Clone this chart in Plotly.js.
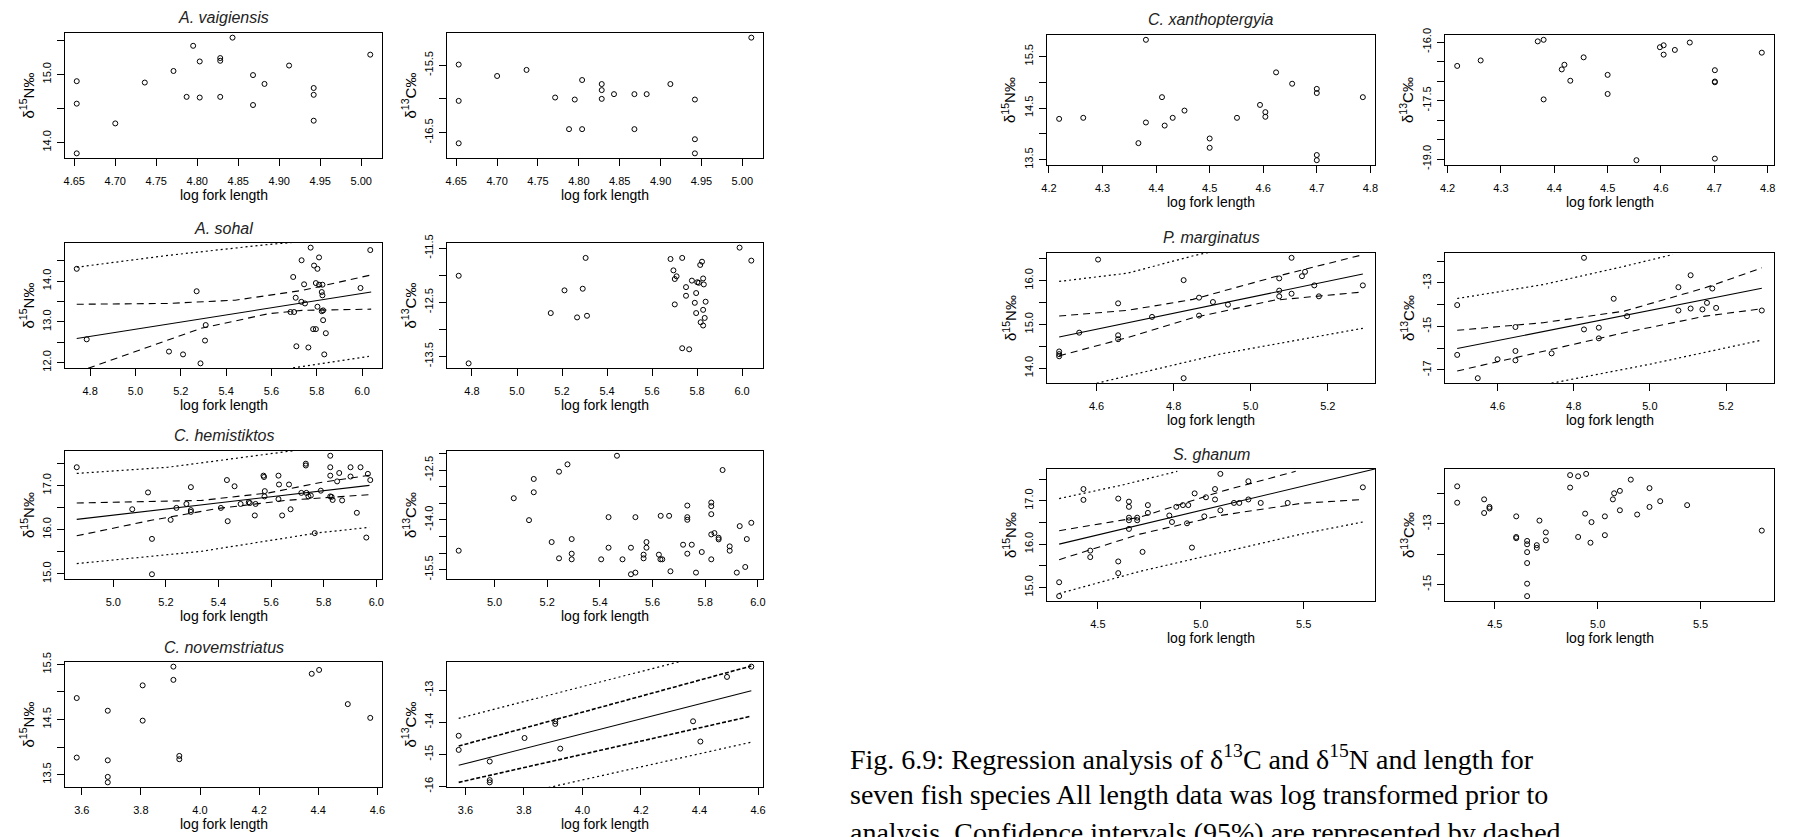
<!DOCTYPE html>
<html><head><meta charset="utf-8">
<script src="https://cdn.plot.ly/plotly-3.0.1.min.js"></script>
<style>body{margin:0;background:#fff}#p{width:1794px;height:837px}</style>
</head><body><div id="p"></div>
<script>
// ---------------- DATA ----------------
// A. vaigiensis
const avaig_N_x = [4.653,4.653,4.653,4.700,4.736,4.771,4.787,4.795,4.803,4.803,4.828,4.828,4.828,4.843,4.868,4.868,4.882,4.912,4.942,4.942,4.942,5.011];
const avaig_N_y = [14.90,14.57,13.84,14.28,14.88,15.05,14.67,15.42,15.19,14.66,15.24,15.20,14.67,15.54,14.99,14.55,14.86,15.13,14.80,14.70,14.32,15.29];
const avaig_C_x = [4.653,4.653,4.653,4.700,4.736,4.771,4.788,4.795,4.804,4.804,4.828,4.828,4.828,4.843,4.868,4.868,4.883,4.912,4.942,4.942,4.942,5.011];
const avaig_C_y = [-15.49,-16.03,-16.66,-15.66,-15.57,-15.98,-16.45,-16.01,-15.72,-16.45,-15.78,-15.87,-16.00,-15.93,-15.93,-16.45,-15.93,-15.78,-16.01,-16.60,-16.81,-15.09];
// A. sohal
const sohal_N_x = [4.741,4.785,5.148,5.210,5.270,5.287,5.310,5.307,5.696,5.707,5.733,5.744,5.710,5.684,5.700,5.732,5.748,5.763,5.773,5.788,5.803,5.810,5.796,5.810,5.825,5.822,5.803,5.825,5.828,5.828,5.822,5.784,5.796,5.840,5.833,5.993,6.036];
const sohal_N_y = [14.30,12.57,12.27,12.20,13.75,11.98,12.92,12.54,14.10,13.59,14.51,13.92,12.40,13.24,13.24,13.49,13.45,12.37,14.82,14.38,14.30,14.58,13.95,13.91,13.91,13.73,13.37,13.65,13.28,13.04,13.26,12.82,12.82,12.72,12.20,13.83,14.76];
const sohal_C_x = [4.741,4.785,5.150,5.211,5.267,5.292,5.305,5.311,5.682,5.695,5.701,5.709,5.701,5.734,5.751,5.751,5.734,5.765,5.777,5.790,5.796,5.796,5.801,5.808,5.814,5.822,5.827,5.830,5.827,5.838,5.834,5.816,5.827,5.989,6.041];
const sohal_C_y = [-12.01,-13.63,-12.70,-12.28,-12.78,-12.25,-11.68,-12.75,-11.70,-11.91,-12.07,-12.02,-12.54,-11.68,-12.22,-12.38,-13.35,-13.37,-12.10,-12.51,-12.33,-12.70,-12.13,-12.14,-11.81,-11.75,-12.06,-12.17,-12.64,-12.49,-12.79,-12.87,-12.93,-11.49,-11.73];
const sohal_fit_x = [4.741,6.04],            sohal_fit_y = [12.59,13.73];
const sohal_ciU_x = [4.741,5.14,5.44,5.736,6.04], sohal_ciU_y = [13.43,13.45,13.53,13.77,14.15];
const sohal_ciL_x = [4.741,4.996,5.29,5.588,5.736,6.04], sohal_ciL_y = [11.76,12.27,12.84,13.20,13.28,13.31];
const sohal_piU_x = [4.741,5.144,5.573,6.04], sohal_piU_y = [14.34,14.63,14.89,15.11];
const sohal_piL_x = [4.741,5.29,5.707,6.03],  sohal_piL_y = [10.89,11.46,11.88,12.15];
// C. hemistiktos
const hemi_N_x = [4.861,5.072,5.132,5.147,5.147,5.218,5.240,5.278,5.295,5.295,5.295,5.409,5.435,5.432,5.461,5.484,5.515,5.519,5.538,5.541,5.571,5.573,5.575,5.576,5.628,5.630,5.628,5.642,5.668,5.674,5.715,5.732,5.732,5.734,5.742,5.751,5.766,5.789,5.825,5.825,5.825,5.825,5.830,5.834,5.859,5.851,5.870,5.902,5.902,5.926,5.940,5.968,5.977,5.962];
const hemi_N_y = [17.41,16.46,16.84,15.79,14.99,16.22,16.49,16.58,16.96,16.44,16.40,16.49,16.19,17.12,16.98,16.58,16.62,16.60,16.32,16.58,17.22,17.19,16.75,16.87,17.22,17.02,16.69,16.32,17.02,16.46,16.83,17.49,17.45,16.83,16.75,16.77,15.92,16.88,17.67,17.41,17.22,16.75,16.74,16.67,17.28,17.09,16.66,17.41,17.20,16.38,17.41,17.26,17.12,15.82];
const hemi_C_x = [4.864,5.073,5.131,5.149,5.149,5.217,5.245,5.245,5.277,5.293,5.293,5.293,5.405,5.433,5.433,5.465,5.486,5.518,5.518,5.535,5.535,5.566,5.566,5.577,5.577,5.624,5.630,5.637,5.631,5.663,5.668,5.716,5.732,5.732,5.732,5.732,5.749,5.765,5.787,5.823,5.823,5.823,5.823,5.823,5.835,5.851,5.851,5.866,5.893,5.893,5.920,5.931,5.952,5.958,5.975];
const hemi_C_y = [-14.93,-13.35,-14.01,-12.77,-13.17,-14.67,-12.55,-15.16,-12.33,-14.58,-15.02,-15.19,-15.19,-13.92,-14.84,-12.07,-15.19,-14.84,-15.64,-15.59,-13.92,-15.05,-15.16,-14.67,-14.84,-15.05,-15.19,-15.19,-13.88,-13.88,-15.55,-14.75,-13.57,-13.92,-14.00,-15.02,-14.75,-15.59,-14.97,-13.48,-13.59,-13.83,-14.44,-15.19,-14.40,-14.54,-14.59,-12.50,-14.80,-14.93,-15.59,-14.19,-15.42,-14.58,-14.09];
const hemi_fit_x = [4.861,5.974], hemi_fit_y = [16.23,17.00];
const hemi_ciU_x = [4.861,5.336,5.591,5.783,5.974], hemi_ciU_y = [16.60,16.66,16.83,17.06,17.23];
const hemi_ciL_x = [4.861,5.144,5.40,5.655,5.974],  hemi_ciL_y = [15.86,16.21,16.48,16.66,16.79];
const hemi_piU_x = [4.861,5.208,5.68,5.974],        hemi_piU_y = [17.27,17.41,17.78,18.0];
const hemi_piL_x = [4.861,5.336,5.783,5.974],       hemi_piL_y = [15.23,15.51,15.93,16.05];
// C. novemstriatus
const novem_N_x = [3.583,3.583,3.688,3.688,3.688,3.688,3.806,3.806,3.910,3.910,3.930,3.930,4.378,4.403,4.500,4.576];
const novem_N_y = [14.89,13.81,14.66,13.76,13.46,13.36,15.12,14.48,15.46,15.22,13.84,13.78,15.33,15.40,14.78,14.53];
const novem_C_x = [3.577,3.577,3.683,3.683,3.683,3.802,3.907,3.907,3.924,4.378,4.403,4.494,4.577];
const novem_C_y = [-14.42,-14.86,-15.22,-15.80,-15.87,-14.49,-13.97,-14.05,-14.82,-13.97,-14.60,-12.59,-12.27];
const novem_fit_x = [3.577,4.577], novem_fit_y = [-15.34,-13.02];
const novem_ciU_x = [3.577,4.577], novem_ciU_y = [-14.74,-12.25];
const novem_ciL_x = [3.577,4.577], novem_ciL_y = [-15.87,-13.81];
const novem_piU_x = [3.577,4.35],  novem_piU_y = [-13.88,-12.07];
const novem_piL_x = [3.85,4.577],  novem_piL_y = [-16.10,-14.62];
// C. xanthoptergyia
const xan_N_x = [4.219,4.264,4.367,4.381,4.381,4.411,4.416,4.431,4.453,4.500,4.500,4.551,4.594,4.604,4.604,4.624,4.654,4.700,4.700,4.700,4.700,4.786];
const xan_N_y = [14.29,14.31,13.82,15.82,14.22,14.71,14.16,14.31,14.45,13.91,13.73,14.31,14.56,14.42,14.33,15.19,14.97,14.87,14.79,13.59,13.49,14.71];
const xan_C_x = [4.218,4.262,4.369,4.380,4.380,4.414,4.419,4.430,4.455,4.500,4.500,4.554,4.598,4.605,4.605,4.626,4.654,4.701,4.701,4.701,4.701,4.789];
const xan_C_y = [-16.61,-16.47,-15.98,-15.94,-17.47,-16.70,-16.58,-16.99,-16.39,-16.84,-17.33,-19.03,-16.13,-16.08,-16.32,-16.20,-16.01,-16.72,-17.01,-17.03,-18.99,-16.27];
// P. marginatus
const pmar_N_x = [4.503,4.503,4.503,4.555,4.604,4.656,4.656,4.656,4.744,4.826,4.826,4.866,4.866,4.902,4.941,5.074,5.074,5.074,5.106,5.106,5.133,5.141,5.165,5.177,5.291];
const pmar_N_y = [14.38,14.32,14.27,14.81,16.48,15.48,14.75,14.66,15.17,16.01,13.77,15.61,15.20,15.51,15.45,16.05,15.77,15.64,16.52,15.70,16.10,16.20,15.89,15.64,15.89];
const pmarN_fit_x = [4.503,5.291], pmarN_fit_y = [14.71,16.15];
const pmarN_ciU_x = [4.503,4.681,4.85,5.06,5.291], pmarN_ciU_y = [15.19,15.32,15.57,16.08,16.59];
const pmarN_ciL_x = [4.503,4.681,4.85,5.06,5.291], pmarN_ciL_y = [14.28,14.70,15.15,15.55,15.74];
const pmarN_piU_x = [4.503,4.681,4.857,4.95],      pmarN_piU_y = [15.98,16.17,16.58,16.75];
const pmarN_piL_x = [4.55,4.92,5.291],             pmarN_piL_y = [13.55,14.32,14.91];
const pmar_C_x = [4.494,4.494,4.548,4.600,4.647,4.647,4.647,4.742,4.827,4.827,4.866,4.866,4.905,4.940,5.075,5.075,5.107,5.107,5.138,5.150,5.164,5.174,5.294];
const pmar_C_y = [-14.02,-16.31,-17.38,-16.51,-15.03,-16.13,-16.56,-16.24,-11.85,-15.14,-15.06,-15.55,-13.73,-14.53,-13.20,-14.27,-12.65,-14.18,-14.22,-13.92,-13.26,-14.15,-14.27];
const pmarC_fit_x = [4.494,5.294], pmarC_fit_y = [-16.02,-13.25];
const pmarC_ciU_x = [4.494,4.72,4.933,5.145,5.294], pmarC_ciU_y = [-15.18,-14.83,-14.30,-13.23,-12.31];
const pmarC_ciL_x = [4.494,4.72,4.933,5.145,5.294], pmarC_ciL_y = [-17.05,-16.13,-15.29,-14.53,-14.19];
const pmarC_piU_x = [4.494,4.72,4.933,5.06],        pmarC_piU_y = [-13.72,-13.08,-12.24,-11.70];
const pmarC_piL_x = [4.742,5.0,5.294],              pmarC_piL_y = [-17.61,-16.74,-15.63];
// S. ghanum
const sgh_N_x = [4.312,4.312,4.430,4.430,4.463,4.463,4.599,4.599,4.599,4.651,4.651,4.651,4.651,4.651,4.691,4.691,4.717,4.743,4.743,4.847,4.860,4.881,4.913,4.933,4.939,4.957,4.970,5.017,5.025,5.069,5.069,5.095,5.095,5.161,5.187,5.231,5.231,5.291,5.422,5.787];
const sgh_N_y = [15.12,14.80,17.27,17.02,15.85,15.70,17.05,15.60,15.33,16.98,16.86,16.61,16.55,16.35,16.61,16.55,15.82,16.90,16.72,16.66,16.51,16.86,16.90,16.48,16.90,15.92,17.17,16.64,17.08,17.27,17.03,17.62,16.78,16.95,16.95,17.45,17.03,16.95,16.95,17.31];
const sgh_fit_x = [4.312,5.852], sgh_fit_y = [16.0,17.74];
const sgh_ciU_x = [4.312,4.704,5.095,5.461], sgh_ciU_y = [16.31,16.62,17.21,17.68];
const sgh_ciL_x = [4.312,4.704,5.095,5.487,5.787], sgh_ciL_y = [15.64,16.23,16.66,16.94,17.03];
const sgh_piU_x = [4.312,4.625,4.886], sgh_piU_y = [17.05,17.37,17.68];
const sgh_piL_x = [4.312,4.704,5.095,5.487,5.787], sgh_piL_y = [14.86,15.37,15.80,16.23,16.51];
const sgh_C_x = [4.317,4.317,4.448,4.448,4.474,4.474,4.604,4.604,4.604,4.657,4.657,4.657,4.657,4.657,4.657,4.704,4.704,4.717,4.748,4.748,4.866,4.866,4.905,4.905,4.944,4.939,4.970,4.965,5.035,5.035,5.074,5.080,5.108,5.108,5.161,5.192,5.252,5.252,5.304,5.435,5.798];
const sgh_C_y = [-11.76,-12.30,-12.19,-12.64,-12.44,-12.49,-12.75,-13.43,-13.47,-13.56,-13.67,-13.93,-14.29,-14.97,-15.38,-13.70,-13.79,-12.89,-13.28,-13.54,-11.80,-11.39,-11.43,-13.43,-11.35,-12.66,-12.94,-13.62,-12.75,-13.37,-12.19,-11.99,-11.91,-12.55,-11.54,-12.69,-11.82,-12.44,-12.25,-12.38,-13.22];

// tick values (labelled) and unlabelled minor tick values
const avaig_xt = [4.65,4.70,4.75,4.80,4.85,4.90,4.95,5.00];
const avaig_xl = ['4.65','4.70','4.75','4.80','4.85','4.90','4.95','5.00'];
const avaig_N_yt = [14.0,15.0], avaig_N_yl = ['14.0','15.0'], avaig_N_ym = [14.5,15.5];
const avaig_C_yt = [-15.5,-16.5], avaig_C_yl = ['-15.5','-16.5'], avaig_C_ym = [-16.0];
const sohal_xt = [4.8,5.0,5.2,5.4,5.6,5.8,6.0], sohal_xl = ['4.8','5.0','5.2','5.4','5.6','5.8','6.0'];
const sohal_N_yt = [12.0,13.0,14.0], sohal_N_yl = ['12.0','13.0','14.0'], sohal_N_ym = [12.5,13.5,14.5];
const sohal_C_yt = [-11.5,-12.5,-13.5], sohal_C_yl = ['-11.5','-12.5','-13.5'], sohal_C_ym = [-12.0,-13.0];
const hemi_xt = [5.0,5.2,5.4,5.6,5.8,6.0], hemi_xl = ['5.0','5.2','5.4','5.6','5.8','6.0'];
const hemi_N_yt = [15.0,16.0,17.0], hemi_N_yl = ['15.0','16.0','17.0'], hemi_N_ym = [15.5,16.5,17.5];
const hemi_C_yt = [-12.5,-14.0,-15.5], hemi_C_yl = ['-12.5','-14.0','-15.5'], hemi_C_ym = [-12.0,-13.0,-13.5,-14.5,-15.0];
const novem_xt = [3.6,3.8,4.0,4.2,4.4,4.6], novem_xl = ['3.6','3.8','4.0','4.2','4.4','4.6'];
const novem_N_yt = [13.5,14.5,15.5], novem_N_yl = ['13.5','14.5','15.5'], novem_N_ym = [14.0,15.0];
const novem_C_yt = [-13,-14,-15,-16], novem_C_yl = ['-13','-14','-15','-16'], novem_C_ym = [];
const xan_xt = [4.2,4.3,4.4,4.5,4.6,4.7,4.8], xan_xl = ['4.2','4.3','4.4','4.5','4.6','4.7','4.8'];
const xan_N_yt = [13.5,14.5,15.5], xan_N_yl = ['13.5','14.5','15.5'], xan_N_ym = [14.0,15.0];
const xan_C_yt = [-16.0,-17.5,-19.0], xan_C_yl = ['-16.0','-17.5','-19.0'], xan_C_ym = [-16.5,-17.0,-18.0,-18.5];
const pmar_xt = [4.6,4.8,5.0,5.2], pmar_xl = ['4.6','4.8','5.0','5.2'];
const pmar_N_yt = [14.0,15.0,16.0], pmar_N_yl = ['14.0','15.0','16.0'], pmar_N_ym = [14.5,15.5,16.5];
const pmar_C_yt = [-13,-15,-17], pmar_C_yl = ['-13','-15','-17'], pmar_C_ym = [-12,-14,-16];
const sgh_xt = [4.5,5.0,5.5], sgh_xl = ['4.5','5.0','5.5'];
const sgh_N_yt = [15.0,16.0,17.0], sgh_N_yl = ['15.0','16.0','17.0'], sgh_N_ym = [15.5,16.5,17.5];
const sgh_C_yt = [-13,-15], sgh_C_yl = ['-13','-15'], sgh_C_ym = [-12,-14];

const species = ['A. vaigiensis','A. sohal','C. hemistiktos','C. novemstriatus','C. xanthoptergyia','P. marginatus','S. ghanum'];
const captionLines = [
  'Fig. 6.9: Regression analysis of δ<sup>13</sup>C and δ<sup>15</sup>N and length for',
  'seven fish species All length data was log transformed prior to',
  'analysis. Confidence intervals (95%) are represented by dashed'
];

// ---------------- LAYOUT ----------------
const W = 1794, H = 837;
const SANS = 'Liberation Sans, Arial, sans-serif';
const pad = a => { const mn = Math.min(...a), mx = Math.max(...a), d = (mx - mn) * 0.04; return [mn - d, mx + d]; };

const L_N = [65,382], L_C = [447,763], R_N = [1047,1375], R_C = [1445,1774];
const rowsL = [[33,158],[243,368],[451,579],[662,787]];
const rowsR = [[35,165],[253,383],[469,601]];

const N = 'δ<sup>15</sup>N‰', C = 'δ<sup>13</sup>C‰';
const panels = [
  {h:L_N,v:rowsL[0],x:avaig_N_x,y:avaig_N_y,xt:avaig_xt,xl:avaig_xl,yt:avaig_N_yt,yl:avaig_N_yl,ym:avaig_N_ym,yt2:N,title:species[0]},
  {h:L_C,v:rowsL[0],x:avaig_C_x,y:avaig_C_y,xt:avaig_xt,xl:avaig_xl,yt:avaig_C_yt,yl:avaig_C_yl,ym:avaig_C_ym,yt2:C},
  {h:L_N,v:rowsL[1],x:sohal_N_x,y:sohal_N_y,xt:sohal_xt,xl:sohal_xl,yt:sohal_N_yt,yl:sohal_N_yl,ym:sohal_N_ym,yt2:N,title:species[1],
    lines:[[sohal_fit_x,sohal_fit_y,'fit'],[sohal_ciU_x,sohal_ciU_y,'ci'],[sohal_ciL_x,sohal_ciL_y,'ci'],[sohal_piU_x,sohal_piU_y,'pi'],[sohal_piL_x,sohal_piL_y,'pi']]},
  {h:L_C,v:rowsL[1],x:sohal_C_x,y:sohal_C_y,xt:sohal_xt,xl:sohal_xl,yt:sohal_C_yt,yl:sohal_C_yl,ym:sohal_C_ym,yt2:C},
  {h:L_N,v:rowsL[2],x:hemi_N_x,y:hemi_N_y,xt:hemi_xt,xl:hemi_xl,yt:hemi_N_yt,yl:hemi_N_yl,ym:hemi_N_ym,yt2:N,title:species[2],
    lines:[[hemi_fit_x,hemi_fit_y,'fit'],[hemi_ciU_x,hemi_ciU_y,'ci'],[hemi_ciL_x,hemi_ciL_y,'ci'],[hemi_piU_x,hemi_piU_y,'pi'],[hemi_piL_x,hemi_piL_y,'pi']]},
  {h:L_C,v:rowsL[2],x:hemi_C_x,y:hemi_C_y,xt:hemi_xt,xl:hemi_xl,yt:hemi_C_yt,yl:hemi_C_yl,ym:hemi_C_ym,yt2:C},
  {h:L_N,v:rowsL[3],x:novem_N_x,y:novem_N_y,xt:novem_xt,xl:novem_xl,yt:novem_N_yt,yl:novem_N_yl,ym:novem_N_ym,yt2:N,title:species[3]},
  {h:L_C,v:rowsL[3],x:novem_C_x,y:novem_C_y,xt:novem_xt,xl:novem_xl,yt:novem_C_yt,yl:novem_C_yl,ym:novem_C_ym,yt2:C,
    lines:[[novem_fit_x,novem_fit_y,'fit'],[novem_ciU_x,novem_ciU_y,'ci2'],[novem_ciL_x,novem_ciL_y,'ci2'],[novem_piU_x,novem_piU_y,'pi'],[novem_piL_x,novem_piL_y,'pi']]},
  {h:R_N,v:rowsR[0],x:xan_N_x,y:xan_N_y,xt:xan_xt,xl:xan_xl,yt:xan_N_yt,yl:xan_N_yl,ym:xan_N_ym,yt2:N,title:species[4]},
  {h:R_C,v:rowsR[0],x:xan_C_x,y:xan_C_y,xt:xan_xt,xl:xan_xl,yt:xan_C_yt,yl:xan_C_yl,ym:xan_C_ym,yt2:C},
  {h:R_N,v:rowsR[1],x:pmar_N_x,y:pmar_N_y,xt:pmar_xt,xl:pmar_xl,yt:pmar_N_yt,yl:pmar_N_yl,ym:pmar_N_ym,yt2:N,title:species[5],
    lines:[[pmarN_fit_x,pmarN_fit_y,'fit'],[pmarN_ciU_x,pmarN_ciU_y,'ci'],[pmarN_ciL_x,pmarN_ciL_y,'ci'],[pmarN_piU_x,pmarN_piU_y,'pi'],[pmarN_piL_x,pmarN_piL_y,'pi']]},
  {h:R_C,v:rowsR[1],x:pmar_C_x,y:pmar_C_y,xt:pmar_xt,xl:pmar_xl,yt:pmar_C_yt,yl:pmar_C_yl,ym:pmar_C_ym,yt2:C,
    lines:[[pmarC_fit_x,pmarC_fit_y,'fit'],[pmarC_ciU_x,pmarC_ciU_y,'ci'],[pmarC_ciL_x,pmarC_ciL_y,'ci'],[pmarC_piU_x,pmarC_piU_y,'pi'],[pmarC_piL_x,pmarC_piL_y,'pi']]},
  {h:R_N,v:rowsR[2],x:sgh_N_x,y:sgh_N_y,xt:sgh_xt,xl:sgh_xl,yt:sgh_N_yt,yl:sgh_N_yl,ym:sgh_N_ym,yt2:N,title:species[6],
    lines:[[sgh_fit_x,sgh_fit_y,'fit'],[sgh_ciU_x,sgh_ciU_y,'ci'],[sgh_ciL_x,sgh_ciL_y,'ci'],[sgh_piU_x,sgh_piU_y,'pi'],[sgh_piL_x,sgh_piL_y,'pi']]},
  {h:R_C,v:rowsR[2],x:sgh_C_x,y:sgh_C_y,xt:sgh_xt,xl:sgh_xl,yt:sgh_C_yt,yl:sgh_C_yl,ym:sgh_C_ym,yt2:C}
];

const lineStyle = {
  fit:{color:'#000',width:1.1},
  ci:{color:'#000',width:1.1,dash:'7px,5px'},
  ci2:{color:'#000',width:1.6,dash:'4px,2px'},
  pi:{color:'#000',width:1.2,dash:'2px,3px'}
};

const traces = [], annotations = [];
const layout = {width:W,height:H,margin:{l:0,r:0,t:0,b:0},paper_bgcolor:'#fff',plot_bgcolor:'#fff',showlegend:false,font:{family:SANS,color:'#000'}};
const px = v => v / W, py = v => 1 - v / H;

panels.forEach((p,i) => {
  const k = i === 0 ? '' : String(i+1);
  const xr = pad(p.x), yr = pad(p.y);
  const common = {showline:true,mirror:true,linecolor:'#000',linewidth:1,ticks:'outside',ticklen:7,tickwidth:1,tickcolor:'#000',
    showgrid:false,zeroline:false,tickmode:'array',fixedrange:true,tickfont:{family:SANS,size:11,color:'#000'}};
  layout['xaxis'+k] = Object.assign({}, common, {domain:[px(p.h[0]),px(p.h[1])],range:xr,tickvals:p.xt,ticktext:p.xl,anchor:'y'+k,ticklabelstandoff:6});
  layout['yaxis'+k] = Object.assign({}, common, {domain:[py(p.v[1]),py(p.v[0])],range:yr,tickvals:p.yt,ticktext:p.yl,anchor:'x'+k,tickangle:-90,ticklabelstandoff:2,
    minor:{tickmode:'array',tickvals:p.ym,ticks:'outside',ticklen:7,tickwidth:1,tickcolor:'#000',showgrid:false}});
  (p.lines||[]).forEach(l => traces.push({x:l[0],y:l[1],xaxis:'x'+k,yaxis:'y'+k,mode:'lines',line:lineStyle[l[2]],hoverinfo:'skip'}));
  traces.push({x:p.x,y:p.y,xaxis:'x'+k,yaxis:'y'+k,mode:'markers',marker:{symbol:'circle-open',size:5,color:'#000',line:{width:1,color:'#000'}}});
  const cx = (p.h[0]+p.h[1])/2, cy = (p.v[0]+p.v[1])/2;
  annotations.push({xref:'paper',yref:'paper',x:px(cx),y:py(p.v[1]+37),text:'log fork length',showarrow:false,xanchor:'center',yanchor:'middle',font:{family:SANS,size:14,color:'#000'}});
  annotations.push({xref:'paper',yref:'paper',x:px(p.h[0]-38),y:py(cy),text:p.yt2,textangle:-90,showarrow:false,xanchor:'center',yanchor:'middle',font:{family:SANS,size:15,color:'#000'}});
  if (p.title) annotations.push({xref:'paper',yref:'paper',x:px(cx),y:py(p.v[0]-15),text:'<i>'+p.title+'</i>',showarrow:false,xanchor:'center',yanchor:'middle',font:{family:SANS,size:16,color:'#222',weight:'normal'}});
});

const capY = [757,794,832];
captionLines.forEach((t,j) => annotations.push({xref:'paper',yref:'paper',x:px(848),y:py(capY[j]),text:t,showarrow:false,xanchor:'left',yanchor:'middle',font:{family:'Liberation Serif, Times New Roman, serif',size:28,color:'#000'}}));
layout.annotations = annotations;

Plotly.newPlot('p', traces, layout, {staticPlot:true,displayModeBar:false});
</script></body></html>
